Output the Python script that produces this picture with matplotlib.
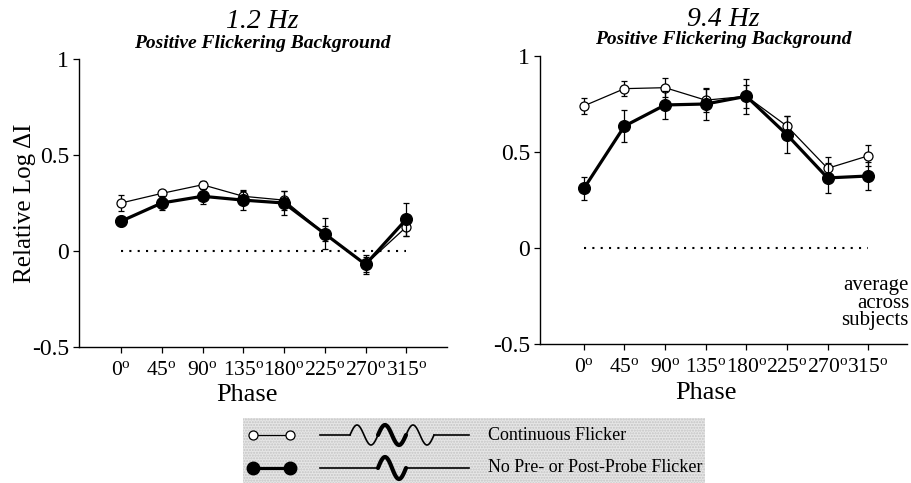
import numpy as np
import matplotlib
matplotlib.use("Agg")
import matplotlib.pyplot as plt
from matplotlib.patches import Rectangle

plt.rcParams["font.family"] = ["Liberation Serif", "DejaVu Serif"]
plt.rcParams["mathtext.fontset"] = "custom"
plt.rcParams["mathtext.rm"] = "Liberation Serif"
plt.rcParams["mathtext.it"] = "Liberation Serif:italic"

# ---- data -------------------------------------------------------------
phases = [0, 45, 90, 135, 180, 225, 270, 315]
phase_labels = [f"{p}$^{{\\mathrm{{o}}}}$" for p in phases]
y_ticks = [-0.5, 0, 0.5, 1]
y_tick_labels = ["-0.5", "0", "0.5", "1"]

# 1.2 Hz
cont_12 = [0.25, 0.30, 0.345, 0.285, 0.265, 0.09, -0.07, 0.125]
cont_12_err = [0.04, 0.015, 0.02, 0.035, 0.05, 0.04, 0.04, 0.045]
nopre_12 = [0.155, 0.25, 0.285, 0.265, 0.25, 0.09, -0.07, 0.165]
nopre_12_err = [0.025, 0.035, 0.04, 0.05, 0.06, 0.08, 0.05, 0.085]

# 9.4 Hz
cont_94 = [0.74, 0.83, 0.835, 0.77, 0.79, 0.635, 0.415, 0.48]
cont_94_err = [0.04, 0.04, 0.05, 0.06, 0.06, 0.055, 0.06, 0.055]
nopre_94 = [0.31, 0.635, 0.745, 0.75, 0.79, 0.59, 0.365, 0.375]
nopre_94_err = [0.06, 0.085, 0.075, 0.085, 0.09, 0.095, 0.08, 0.075]

panels = [
    ("1.2 Hz", cont_12, cont_12_err, nopre_12, nopre_12_err),
    ("9.4 Hz", cont_94, cont_94_err, nopre_94, nopre_94_err),
]

# ---- figure in pixel units --------------------------------------------
W, H = 911, 483
fig = plt.figure(figsize=(W / 100, H / 100), dpi=100)


def px_axes(x0, y0, x1, y1):
    return fig.add_axes([x0 / W, 1 - y1 / H, (x1 - x0) / W, (y1 - y0) / H])


def ftext(x, y, s, **kw):
    return fig.text(x / W, 1 - y / H, s, **kw)


axes_boxes = [(79, 59, 447, 347), (540, 56, 907, 344)]
xlims = [(-46.4, 360), (-48.6, 358)]
title_pos = [(262, 22, 43), (723, 20, 40)]
phase_pos = [(247, 395), (706, 393)]

for (title, c, ce, n, ne), box, xl, tp, pp in zip(panels, axes_boxes, xlims,
                                                title_pos, phase_pos):
    ax = px_axes(*box)
    ax.set_xlim(*xl)
    ax.set_ylim(-0.5, 1.0)
    for s in ("top", "right"):
        ax.spines[s].set_visible(False)
    for s in ("left", "bottom"):
        ax.spines[s].set_linewidth(1.0)
    ax.set_xticks(phases)
    ax.set_xticklabels(phase_labels)
    ax.set_yticks(y_ticks)
    ax.set_yticklabels(y_tick_labels)
    ax.tick_params(axis="both", direction="out", length=4, width=0.9)
    ax.tick_params(axis="x", pad=6, labelsize=15.5)
    ax.tick_params(axis="y", pad=3, labelsize=17)

    # zero reference line
    ax.plot([phases[0], phases[-1]], [0, 0], ls=(0, (1, 3)), lw=1.5,
            color="black", zorder=2)

    # continuous flicker (open symbols)
    ax.errorbar(phases, c, yerr=ce, fmt="-o", color="black", lw=0.9,
                ms=6.5, mfc="white", mec="black", mew=0.9,
                elinewidth=0.9, capsize=2.2, capthick=0.9, zorder=3)
    # no pre-/post-probe flicker (filled symbols)
    ax.errorbar(phases, n, yerr=ne, fmt="-o", color="black", lw=2.3,
                ms=8.5, mfc="black", mec="black", mew=0.9,
                elinewidth=0.9, capsize=2.2, capthick=0.9, zorder=4)

    ftext(tp[0], tp[1], title, fontsize=20, style="italic",
          ha="center", va="center")
    ftext(tp[0], tp[2], "Positive Flickering Background", fontsize=14,
          style="italic", weight="bold", ha="center", va="center")
    ftext(pp[0], pp[1], "Phase", fontsize=19, ha="center", va="center")

ftext(25, 203, "Relative Log ΔI", fontsize=18, rotation=90,
      ha="center", va="center")
ftext(909, 303, "average\nacross\nsubjects", fontsize=15, ha="right",
      va="center", multialignment="right", linespacing=0.92)

# ---- legend panel -----------------------------------------------------
leg = px_axes(243, 418, 705, 483)
leg.set_xlim(243, 705)
leg.set_ylim(483, 418)
leg.set_xticks([])
leg.set_yticks([])
for s in leg.spines.values():
    s.set_visible(False)
leg.set_facecolor("#e6e6e6")
leg.add_patch(Rectangle((243, 418), 462, 65, facecolor="none",
                        edgecolor="#c4c4c4", hatch="......", lw=0, zorder=0))

row1, row2 = 435, 468
leg.plot([253, 290], [row1, row1], "-o", color="black", lw=0.9, ms=6.5,
         mfc="white", mec="black", mew=0.9)
leg.plot([253, 290], [row2, row2], "-o", color="black", lw=2.3, ms=9,
         mfc="black", mec="black")

# stimulus waveform sketches
period, amp = 28.0, 10.0
wave_start = 350.0
for k in range(3):
    t = np.linspace(wave_start + k * period, wave_start + (k + 1) * period, 60)
    yv = row1 - amp * np.sin(2 * np.pi * (t - wave_start) / period)
    leg.plot(t, yv, color="black", lw=3.0 if k == 1 else 1.2,
             solid_capstyle="round")
leg.plot([320, wave_start], [row1, row1], color="black", lw=1.2)
leg.plot([wave_start + 3 * period, 469], [row1, row1], color="black", lw=1.2)

t = np.linspace(wave_start + period, wave_start + 2 * period, 60)
yv = row2 - 11 * np.sin(2 * np.pi * (t - wave_start) / period)
leg.plot([320, wave_start + period], [row2, row2], color="black", lw=1.2)
leg.plot(t, yv, color="black", lw=3.0, solid_capstyle="round")
leg.plot([wave_start + 2 * period, 469], [row2, row2], color="black", lw=1.2)

leg.text(488, row1, "Continuous Flicker", fontsize=13, va="center")
leg.text(488, row2, "No Pre- or Post-Probe Flicker", fontsize=13,
         va="center")

fig.savefig("out.png", dpi=100)
